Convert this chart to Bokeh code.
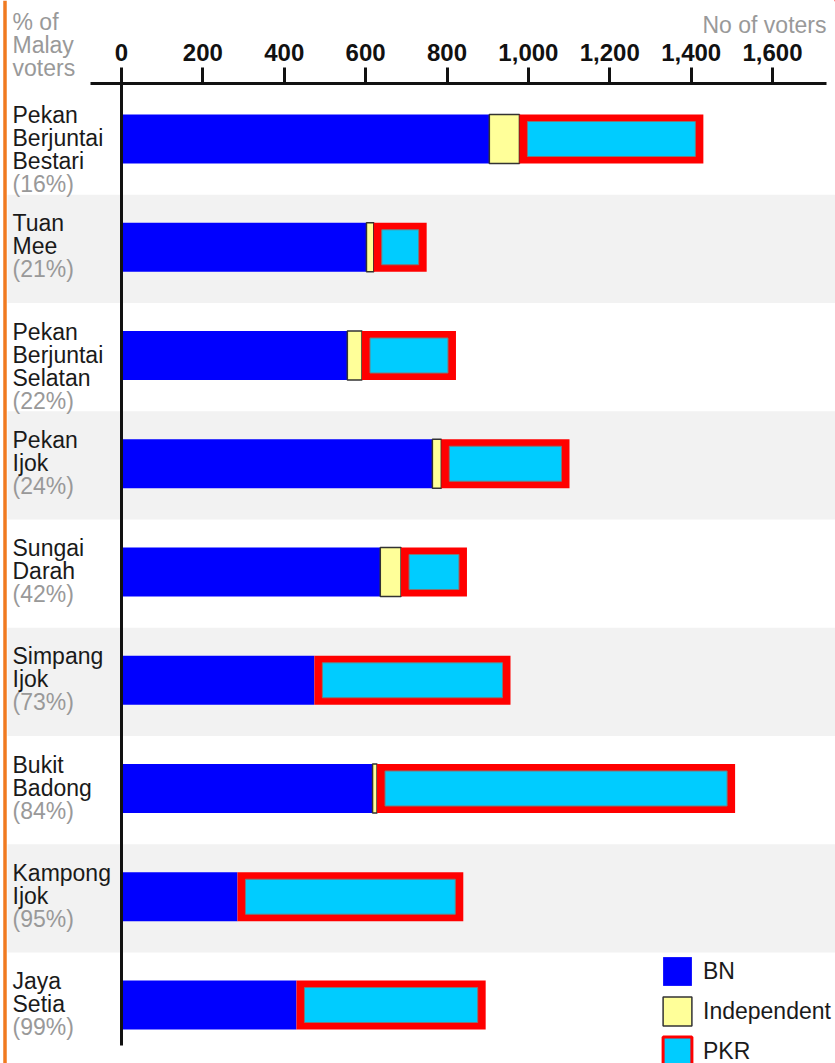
from bokeh.plotting import figure
from bokeh.models import (Range1d, FixedTicker, NumeralTickFormatter,
                          Legend, LegendItem, ColumnDataSource)
from bokeh.core.properties import value
from bokeh.embed import file_html
from bokeh.resources import INLINE
import numpy as np

# ---------------- data ----------------
districts = ["Pekan Berjuntai Bestari", "Tuan Mee", "Pekan Berjuntai Selatan",
             "Pekan Ijok", "Sungai Darah", "Simpang Ijok", "Bukit Badong",
             "Kampong Ijok", "Jaya Setia"]
malay_pct = [16, 21, 22, 24, 42, 73, 84, 95, 99]
bn = [904, 602, 555, 764, 636, 474, 617, 285, 430]
independent = [74, 18, 36, 22, 51, 0, 11, 0, 0]
pkr = [452, 130, 231, 315, 162, 482, 880, 555, 465]
x_ticks = [0, 200, 400, 600, 800, 1000, 1200, 1400, 1600]

# ---------------- layout constants (pixels) ----------------
W, H = 835, 1063
PX_PER_VOTER = 0.4069
ZERO_PX = 121            # x pixel of value 0
ROW_PX = 108.25          # pixels per row
ROW0_PX = 138.5          # y pixel of first bar centre
AXIS_PX = 83             # y pixel of the axis line
TXT_SHIFT = -8           # baseline correction for text glyphs
FONT = "Liberation Sans"

vx = 1.0 / PX_PER_VOTER  # voters per pixel
vy = 1.0 / ROW_PX        # rows per pixel


def xpx(px):
    return (px - ZERO_PX) * vx


def ypx(py):
    return (py - ROW0_PX) * vy


x0, x1 = xpx(0), xpx(W)
y_top, y_bot = ypx(0), ypx(H)

rows = np.arange(len(districts))
bn_a = np.array(bn, dtype=float)
ind_a = np.array(independent, dtype=float)
pkr_a = np.array(pkr, dtype=float)
pkr_left = bn_a + ind_a
pkr_right = pkr_left + pkr_a
bar_h = 49 * vy

p = figure(width=W, height=H, output_backend="svg", toolbar_location=None,
           x_range=Range1d(x0, x1), y_range=Range1d(y_bot, y_top),
           x_axis_location="above", y_axis_location=None,
           min_border_left=0, min_border_right=0, min_border_bottom=0,
           min_border_top=0)
p.grid.visible = False
p.outline_line_color = None
p.background_fill_color = "white"
p.border_fill_color = "white"

# orange page rule on the far left
p.segment(x0=[xpx(4.5)], y0=[y_top], x1=[xpx(4.5)], y1=[y_bot],
          line_color="#f07a20", line_width=3.5)

# alternating row bands
band_rows = rows[1::2]
p.hbar(y=band_rows + 0.015, height=1.0, left=xpx(7), right=x1 + 50,
       fill_color="#f2f2f2", line_color=None)

# BN
r_bn = p.hbar(y=rows, left=0, right=bn_a, height=bar_h,
              fill_color="#0000ff", line_color=None)

# Independent
m = ind_a > 0
r_ind = p.hbar(y=rows[m], left=bn_a[m], right=(bn_a + ind_a)[m], height=bar_h,
               fill_color="#ffff99", line_color="#333333", line_width=1.5)

# PKR: red frame with cyan inside
p.hbar(y=rows, left=pkr_left, right=pkr_right, height=bar_h,
       fill_color="#ff0000", line_color=None)
p.hbar(y=rows, left=pkr_left + 8 * vx, right=pkr_right - 8 * vx,
       height=bar_h - 14 * vy, fill_color="#00ccff", line_color="#7a7a7a",
       line_width=1)

# legend stand-in for PKR (one point placed far outside the visible area)
r_pkr_leg = p.hbar(y=[y_top - 20], left=[x1 + 1000], right=[x1 + 1001],
                   height=bar_h, fill_color="#00ccff", line_color="#ff0000",
                   line_width=3)

# vertical zero line
p.segment(x0=[0], y0=[ypx(76)], x1=[0], y1=[ypx(1045)],
          line_color="#111111", line_width=3)

# row labels
lx, ly, lt, lc = [], [], [], []
for i, (name, pct) in enumerate(zip(districts, malay_pct)):
    lines = name.split() + [f"({pct}%)"]
    for k, t in enumerate(lines):
        lx.append(xpx(12))
        ly.append(i + (-16 + TXT_SHIFT + 23 * k) * vy)
        lt.append(t)
        lc.append("#999999" if k == len(lines) - 1 else "#1a1a1a")
src = ColumnDataSource(dict(x=lx, y=ly, text=lt, color=lc))
p.text(x="x", y="y", text="text", text_color="color", source=src,
       text_font=value(FONT), text_font_size="23px",
       text_baseline="alphabetic", text_align="left")

# header texts
p.text(x=[xpx(12)] * 3,
       y=[ypx(29 + TXT_SHIFT), ypx(52 + TXT_SHIFT), ypx(75 + TXT_SHIFT)],
       text=["% of", "Malay", "voters"], text_color="#999999",
       text_font=value(FONT), text_font_size="23px",
       text_baseline="alphabetic", text_align="left")
p.text(x=[xpx(826)], y=[ypx(32 + TXT_SHIFT)], text=["No of voters"],
       text_color="#999999",
       text_font=value(FONT), text_font_size="23px",
       text_baseline="alphabetic", text_align="right")

# axis, drawn at a fixed location inside the frame
ax = p.xaxis[0]
ax.fixed_location = ypx(AXIS_PX)
ax.ticker = FixedTicker(ticks=x_ticks)
ax.formatter = NumeralTickFormatter(format="0,0")
ax.bounds = (xpx(90), xpx(826))
ax.axis_line_width = 3
ax.axis_line_color = "#111111"
ax.major_tick_line_width = 3
ax.major_tick_line_color = "#111111"
ax.major_tick_out = 16
ax.major_tick_in = 0
ax.minor_tick_out = 0
ax.minor_tick_in = 0
ax.major_label_text_font = FONT
ax.major_label_text_font_size = "24px"
ax.major_label_text_font_style = "bold"
ax.major_label_text_color = "#111111"
ax.major_label_standoff = 7

legend = Legend(items=[LegendItem(label="BN", renderers=[r_bn]),
                       LegendItem(label="Independent", renderers=[r_ind]),
                       LegendItem(label="PKR", renderers=[r_pkr_leg])],
                location=(659, -6), orientation="vertical",
                glyph_width=36, glyph_height=36, label_height=36,
                spacing=4, padding=0, margin=0, label_standoff=8,
                border_line_color=None, background_fill_alpha=0,
                label_text_font=FONT, label_text_font_size="23px",
                label_text_color="#1a1a1a")
p.add_layout(legend)

open("out.html", "w").write(file_html(p, INLINE, "Ijok voters"))
